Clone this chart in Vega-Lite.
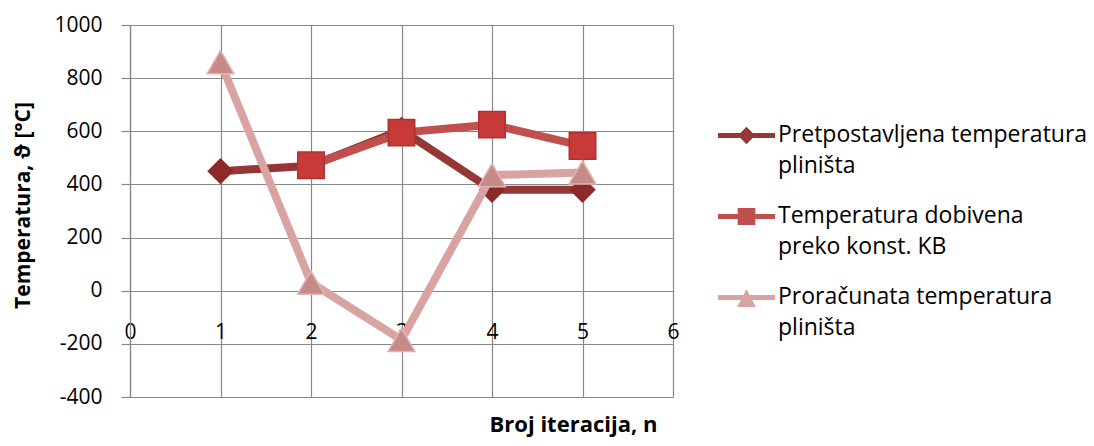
{
  "$schema": "https://vega.github.io/schema/vega-lite/v6.json",
  "width": 543,
  "height": 372,
  "autosize": {"type": "none"},
  "padding": {"left": 130, "top": 25, "right": 421, "bottom": 49},
  "background": "white",
  "config": {"view": {"stroke": null}, "font": "Open Sans"},
  "data": {"values": [
    {"n": 1, "t": 450, "s": "Pretpostavljena temperatura pliništa"},
    {"n": 2, "t": 470, "s": "Pretpostavljena temperatura pliništa"},
    {"n": 3, "t": 605, "s": "Pretpostavljena temperatura pliništa"},
    {"n": 4, "t": 380, "s": "Pretpostavljena temperatura pliništa"},
    {"n": 5, "t": 380, "s": "Pretpostavljena temperatura pliništa"},
    {"n": 2, "t": 472, "s": "Temperatura dobivena preko konst. KB"},
    {"n": 3, "t": 595, "s": "Temperatura dobivena preko konst. KB"},
    {"n": 4, "t": 625, "s": "Temperatura dobivena preko konst. KB"},
    {"n": 5, "t": 545, "s": "Temperatura dobivena preko konst. KB"},
    {"n": 1, "t": 860, "s": "Proračunata temperatura pliništa"},
    {"n": 2, "t": 30, "s": "Proračunata temperatura pliništa"},
    {"n": 3, "t": -185, "s": "Proračunata temperatura pliništa"},
    {"n": 4, "t": 435, "s": "Proračunata temperatura pliništa"},
    {"n": 5, "t": 445, "s": "Proračunata temperatura pliništa"}
  ]},
  "encoding": {
    "x": {
      "field": "n", "type": "quantitative",
      "scale": {"domain": [0, 6], "nice": false, "zero": false},
      "axis": {
        "title": "Broj iteracija, n",
        "values": [0, 1, 2, 3, 4, 5, 6],
        "offset": -106,
        "domain": false, "ticks": false,
        "labelPadding": 30, "labelFontSize": 21, "labelColor": "black", "labelFlush": false,
        "grid": true, "gridColor": "#888888", "gridWidth": 1.2,
        "titleFontSize": 22, "titleFontWeight": "bold", "titleColor": "black",
        "titleX": 443, "titleY": 123, "titleAlign": "center", "titleBaseline": "top"
      }
    },
    "y": {
      "field": "t", "type": "quantitative",
      "scale": {"domain": [-400, 1000], "nice": false, "zero": false},
      "axis": {
        "title": "Temperatura, ϑ [°C]",
        "values": [-400, -200, 0, 200, 400, 600, 800, 1000],
        "labelExpr": "datum.value < 0 ? '-' + abs(datum.value) : '' + datum.value",
        "domain": true, "domainColor": "#888888", "domainWidth": 1.2,
        "ticks": true, "tickColor": "#888888", "tickSize": 9, "tickWidth": 1.2,
        "labelPadding": 19, "labelFontSize": 21, "labelColor": "black",
        "grid": true, "gridColor": "#888888", "gridWidth": 1.2,
        "titleFontSize": 21, "titleFontWeight": "bold", "titleColor": "black",
        "titleX": -97, "titleY": 180, "titleAlign": "center", "titleBaseline": "bottom", "titleAngle": -90
      }
    }
  },
  "layer": [
    {
      "transform": [{"filter": "datum.s == 'Pretpostavljena temperatura pliništa'"}],
      "mark": {"type": "line", "color": "#953735", "strokeWidth": 8}
    },
    {
      "transform": [{"filter": "datum.s == 'Pretpostavljena temperatura pliništa'"}],
      "mark": {"type": "point", "shape": "diamond", "filled": true, "color": "#8C2A29", "opacity": 1, "size": 700}
    },
    {
      "transform": [{"filter": "datum.s == 'Temperatura dobivena preko konst. KB'"}],
      "mark": {"type": "line", "color": "#C0504D", "strokeWidth": 8}
    },
    {
      "transform": [{"filter": "datum.s == 'Temperatura dobivena preko konst. KB'"}],
      "mark": {"type": "point", "shape": "square", "filled": true, "color": "#C8393A", "opacity": 1, "size": 700, "stroke": "#B03030", "strokeWidth": 1.5}
    },
    {
      "transform": [{"filter": "datum.s == 'Proračunata temperatura pliništa'"}],
      "mark": {"type": "line", "color": "#D9A3A1", "strokeWidth": 8}
    },
    {
      "transform": [{"filter": "datum.s == 'Proračunata temperatura pliništa'"}],
      "mark": {"type": "point", "shape": "triangle-up", "filled": true, "color": "#C68A89", "opacity": 1, "size": 720, "stroke": "#E2B3B1", "strokeWidth": 1.5}
    },
    {
      "mark": {"type": "point", "filled": true, "opacity": 0},
      "encoding": {
        "color": {
          "field": "s", "type": "nominal",
          "scale": {
            "domain": ["Pretpostavljena temperatura pliništa", "Temperatura dobivena preko konst. KB", "Proračunata temperatura pliništa"],
            "range": ["#953735", "#C0504D", "#D9A3A1"]
          },
          "legend": {
            "title": null,
            "orient": "none",
            "legendX": 588,
            "legendY": 82,
            "symbolSize": 3249,
            "symbolStrokeWidth": 0,
            "labelFontSize": 23,
            "labelColor": "black",
            "labelOffset": 3,
            "rowPadding": 10,
            "labelLimit": 400,
            "labelBaseline": "top",
            "labelExpr": "datum.label == 'Pretpostavljena temperatura pliništa' ? ['Pretpostavljena temperatura', 'pliništa'] : datum.label == 'Temperatura dobivena preko konst. KB' ? ['Temperatura dobivena', 'preko konst. KB'] : ['Proračunata temperatura', 'pliništa']",
            "encode": {
              "symbols": {"update": {"opacity": {"value": 1}, "fillOpacity": {"value": 1}}},
              "labels": {"update": {"lineHeight": {"value": 31}, "dy": {"value": -12}}}
            }
          }
        },
        "shape": {
          "field": "s", "type": "nominal",
          "scale": {
            "domain": ["Pretpostavljena temperatura pliništa", "Temperatura dobivena preko konst. KB", "Proračunata temperatura pliništa"],
            "range": [
              "M-1,-0.09L1,-0.09L1,0.09L-1,0.09Z M-0.3,0L0,-0.31L0.3,0L0,0.31Z",
              "M-1,-0.09L1,-0.09L1,0.09L-1,0.09Z M-0.31,-0.3L0.31,-0.3L0.31,0.3L-0.31,0.3Z",
              "M-1,-0.09L1,-0.09L1,0.09L-1,0.09Z M-0.33,0.33L0,-0.29L0.33,0.33Z"
            ]
          }
        }
      }
    }
  ]
}
